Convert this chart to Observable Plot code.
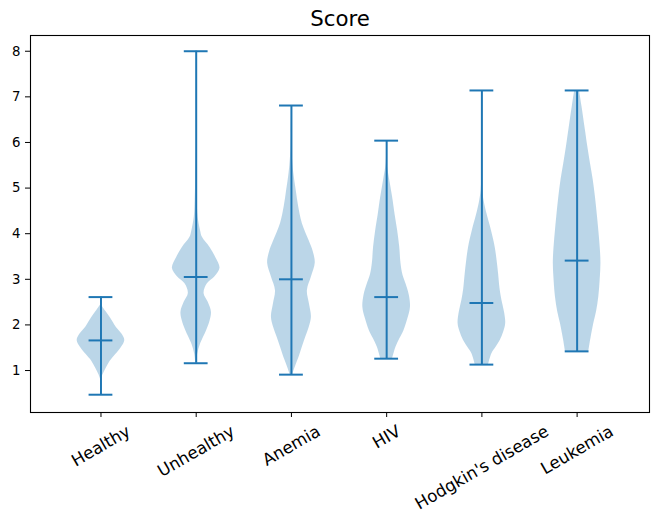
<!DOCTYPE html>
<html>
<head>
<meta charset="utf-8">
<script src="https://cdn.jsdelivr.net/npm/d3@7"></script>
<script src="https://cdn.jsdelivr.net/npm/@observablehq/plot@0.6"></script>
<style>
  html, body { margin: 0; padding: 0; background: white; }
</style>
</head>
<body>
<div id="chart"></div>
<script>
// ---- Data ----
const categories = ["Healthy", "Unhealthy", "Anemia", "HIV", "Hodgkin's disease", "Leukemia"];
const minValues  = [0.47, 1.16, 0.91, 1.26, 1.13, 1.42];
const maxValues  = [2.61, 8.00, 6.81, 6.04, 7.14, 7.14];
const meanValues = [1.66, 3.05, 3.00, 2.61, 2.48, 3.41];
const yTicks = [1, 2, 3, 4, 5, 6, 7, 8];

// violin outlines: score values and relative half-widths (1 = widest)
const healthyY   = [2.45, 2.3, 2.15, 1.95, 1.8, 1.66, 1.5, 1.35, 1.2, 1.05, 0.9, 0.78];
const healthyW   = [0, 0.2, 0.4, 0.64, 0.88, 1.0, 0.85, 0.62, 0.38, 0.22, 0.08, 0];
const unhealthyY = [8.0, 6.0, 5.2, 4.8, 4.36, 4.07, 3.92, 3.7, 3.48, 3.24, 3.05, 2.9, 2.69, 2.5, 2.28, 2.08, 1.88, 1.59, 1.35, 1.16];
const unhealthyW = [0, 0, 0.02, 0.04, 0.08, 0.18, 0.26, 0.58, 0.82, 1.0, 0.78, 0.47, 0.33, 0.5, 0.64, 0.58, 0.44, 0.19, 0.06, 0.02];
const anemiaY    = [6.81, 6.2, 5.68, 5.32, 4.95, 4.6, 4.22, 3.85, 3.6, 3.35, 3.05, 2.75, 2.45, 2.17, 1.95, 1.73, 1.5, 1.29, 1.1, 0.91];
const anemiaW    = [0, 0.01, 0.04, 0.1, 0.2, 0.3, 0.46, 0.74, 0.92, 1.0, 0.84, 0.67, 0.76, 0.84, 0.75, 0.6, 0.45, 0.32, 0.18, 0.05];
const hivY       = [6.04, 5.54, 5.2, 4.8, 4.4, 4.07, 3.7, 3.35, 3.1, 2.9, 2.65, 2.39, 2.15, 1.88, 1.7, 1.51, 1.26];
const hivW       = [0, 0.02, 0.12, 0.25, 0.36, 0.46, 0.55, 0.6, 0.68, 0.81, 0.95, 1.0, 0.9, 0.73, 0.56, 0.39, 0.25];
const hodgkinY   = [7.14, 5.5, 4.95, 4.7, 4.44, 4.07, 3.7, 3.4, 3.12, 2.8, 2.54, 2.28, 2.03, 1.85, 1.66, 1.5, 1.37, 1.13];
const hodgkinW   = [0, 0, 0.03, 0.1, 0.21, 0.4, 0.56, 0.64, 0.7, 0.76, 0.84, 0.95, 1.0, 0.92, 0.77, 0.58, 0.42, 0.28];
const leukemiaY  = [7.14, 6.8, 6.26, 5.9, 5.54, 5.2, 4.8, 4.4, 4.07, 3.7, 3.35, 3.0, 2.61, 2.3, 2.03, 1.7, 1.42];
const leukemiaW  = [0.1, 0.2, 0.35, 0.45, 0.56, 0.67, 0.77, 0.85, 0.91, 0.97, 1.0, 0.97, 0.91, 0.82, 0.7, 0.58, 0.49];

const profilesY = [healthyY, unhealthyY, anemiaY, hivY, hodgkinY, leukemiaY];
const profilesW = [healthyW, unhealthyW, anemiaW, hivW, hodgkinW, leukemiaW];

// ---- Build tables ----
const HALF = 0.25;      // max half-width of a violin (widths = 0.5)
const CAP = 0.125;      // half-length of caps / mean lines
const blue = "#1f77b4";

const violinRows = [];
profilesY.forEach((ys, i) => {
  ys.forEach((v, j) => violinRows.push({pos: i + 1, v, w: profilesW[i][j]}));
});
const stats = categories.map((c, i) => ({
  pos: i + 1, label: c, min: minValues[i], max: maxValues[i], mean: meanValues[i]
}));

const FONT = "DejaVu Sans";
const xFont = 16.7;
const ctx = document.createElement("canvas").getContext("2d");
ctx.font = `${xFont}px ${FONT}`;
const rad = Math.PI / 6;
const labelMarks = stats.map(s => {
  const L = ctx.measureText(s.label).width;
  const h = 1.164 * xFont;
  const H = L * Math.sin(rad) + h * Math.cos(rad);
  return Plot.text([s], {
    x: "pos", text: "label", frameAnchor: "bottom",
    rotate: -30, textAnchor: "middle", lineAnchor: "middle",
    dy: 9 + H / 2, fontSize: xFont, fill: "black"
  });
});

const chart = Plot.plot({
  width: 662,
  height: 522,
  marginTop: 35,
  marginBottom: 110,
  marginLeft: 30,
  marginRight: 13,
  style: {fontFamily: FONT, background: "white", color: "black"},
  x: {domain: [0.26, 6.76], axis: null},
  y: {domain: [0.08, 8.345], axis: null},
  marks: [
    Plot.areaX(violinRows, {
      y: "v",
      x1: d => d.pos - d.w * HALF,
      x2: d => d.pos + d.w * HALF,
      z: "pos",
      fill: blue, fillOpacity: 0.3,
      curve: "catmull-rom"
    }),
    Plot.ruleX(stats, {x: "pos", y1: "min", y2: "max", stroke: blue, strokeWidth: 2}),
    Plot.ruleY(stats, {y: "min", x1: d => d.pos - CAP, x2: d => d.pos + CAP, stroke: blue, strokeWidth: 2}),
    Plot.ruleY(stats, {y: "max", x1: d => d.pos - CAP, x2: d => d.pos + CAP, stroke: blue, strokeWidth: 2}),
    Plot.ruleY(stats, {y: "mean", x1: d => d.pos - CAP, x2: d => d.pos + CAP, stroke: blue, strokeWidth: 2}),
    Plot.axisY({ticks: yTicks, tickSize: 5, tickPadding: 5, fontSize: 13.3, label: null, anchor: "left", stroke: "black", fill: "black"}),
    Plot.axisX({ticks: stats.map(s => s.pos), tickSize: 5, tickFormat: () => "", label: null, anchor: "bottom", stroke: "black"}),
    ...labelMarks,
    Plot.text(["Score"], {frameAnchor: "top", text: d => d, dy: -10, lineAnchor: "bottom", fontSize: 21.3, fill: "black"}),
    Plot.frame({stroke: "black", strokeWidth: 1.1})
  ]
});
document.getElementById("chart").appendChild(chart);
</script>
</body>
</html>
